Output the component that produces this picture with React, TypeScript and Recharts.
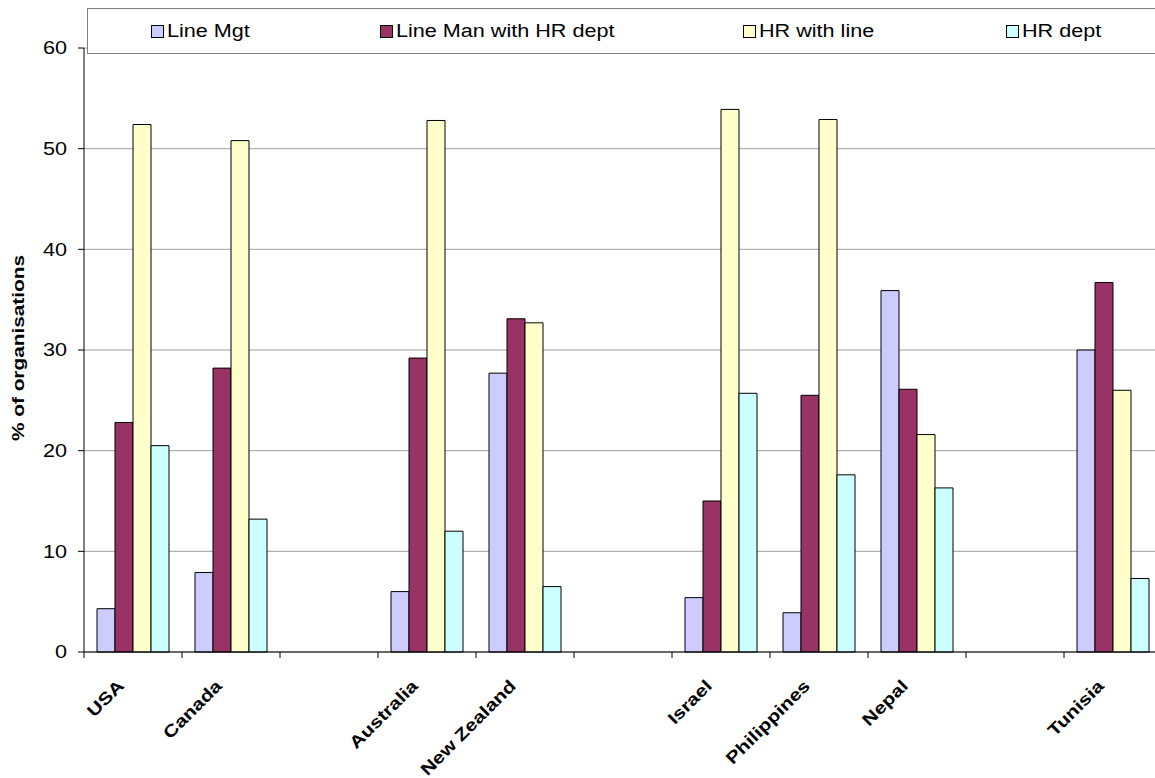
import { BarChart, Bar, XAxis, YAxis, CartesianGrid } from "recharts";

const countries = ["USA", "Canada", "", "Australia", "New Zealand", "", "Israel", "Philippines", "Nepal", "", "Tunisia"];
const lineMgt = [4.3, 7.9, null, 6.0, 27.7, null, 5.4, 3.9, 35.9, null, 30.0];
const lineManHR = [22.8, 28.2, null, 29.2, 33.1, null, 15.0, 25.5, 26.1, null, 36.7];
const hrWithLine = [52.4, 50.8, null, 52.8, 32.7, null, 53.9, 52.9, 21.6, null, 26.0];
const hrDept = [20.5, 13.2, null, 12.0, 6.5, null, 25.7, 17.6, 16.3, null, 7.3];
const yTicks = [0, 10, 20, 30, 40, 50, 60];

const series = [
  { key: "lineMgt", name: "Line Mgt", color: "#CCCCFF" },
  { key: "lineManHR", name: "Line Man with HR dept", color: "#993366" },
  { key: "hrWithLine", name: "HR with line", color: "#FFFFCC" },
  { key: "hrDept", name: "HR dept", color: "#CCFFFF" },
];

// legend item x positions inside the legend box (px)
const legendLeft = [63, 292, 655, 918];

const data = countries.map((country, i) => ({
  country,
  lineMgt: lineMgt[i],
  lineManHR: lineManHR[i],
  hrWithLine: hrWithLine[i],
  hrDept: hrDept[i],
}));

const FONT = "'Liberation Sans', Arial, sans-serif";
// the source renders its text wider than Arial, so widen along the baseline
const STRETCH = 1.2;

const XTick = (props: any) => {
  const { x, y, payload } = props;
  const off = payload.offset ?? 49;
  return (
    <g>
      <line x1={x - off} x2={x - off} y1={y - 6} y2={y} stroke="#000" />
      <text
        transform={`translate(${x - 8},${y + 29}) rotate(-45) scale(1.22,1)`}
        textAnchor="end"
        fontSize={17}
        fontWeight="bold"
        fontFamily={FONT}
        fill="#000"
      >
        {payload.value}
      </text>
    </g>
  );
};

const YTick = (props: any) => {
  const { x, y, payload } = props;
  return (
    <text
      transform={`translate(${x},${y}) scale(${STRETCH},1)`}
      textAnchor="end"
      dominantBaseline="central"
      fontSize={18}
      fontFamily={FONT}
      fill="#000"
    >
      {payload.value}
    </text>
  );
};

const YLabel = () => (
  <text
    transform="translate(24,348) rotate(-90) scale(1.3,1)"
    textAnchor="middle"
    fontSize={16}
    fontWeight="bold"
    fontFamily={FONT}
    fill="#000"
  >
    % of organisations
  </text>
);

const Legend = () => (
  <div
    style={{
      position: "absolute",
      left: 87,
      top: 8,
      width: 1100,
      height: 44,
      border: "1px solid #808080",
      background: "#fff",
      fontFamily: FONT,
      fontSize: 18,
    }}
  >
    {series.map((s, i) => (
      <div
        key={s.key}
        style={{ position: "absolute", left: legendLeft[i], top: 0, height: 44, display: "flex", alignItems: "center" }}
      >
        <div style={{ width: 11, height: 11, background: s.color, border: "1.5px solid #000" }} />
        <span style={{ display: "inline-block", marginLeft: 3, transform: `scaleX(${STRETCH})`, transformOrigin: "left center", whiteSpace: "nowrap" }}>
          {s.name}
        </span>
      </div>
    ))}
  </div>
);

const App = () => {
  return (
    <div style={{ position: "absolute", left: 0, top: 0, width: 1155, height: 778, overflow: "hidden", background: "#fff" }}>
      <BarChart
        width={1175}
        height={778}
        data={data}
        margin={{ top: 48, right: 13, left: 0, bottom: 26 }}
        barCategoryGap={13}
        barGap={0}
      >
        <CartesianGrid vertical={false} stroke="#a0a0a0" />
        <XAxis
          dataKey="country"
          height={100}
          tickLine={false}
          tickSize={6}
          tickMargin={0}
          axisLine={{ stroke: "#000" }}
          tick={<XTick />}
          interval={0}
        />
        <YAxis
          width={84}
          domain={[0, 60]}
          ticks={yTicks}
          tickSize={6}
          tickMargin={11}
          tickLine={{ stroke: "#000" }}
          axisLine={{ stroke: "#000" }}
          tick={<YTick />}
          label={<YLabel />}
        />
        {series.map((s) => (
          <Bar key={s.key} dataKey={s.key} name={s.name} fill={s.color} stroke="#000" strokeWidth={1} isAnimationActive={false} />
        ))}
      </BarChart>
      <Legend />
    </div>
  );
};

export default App;
